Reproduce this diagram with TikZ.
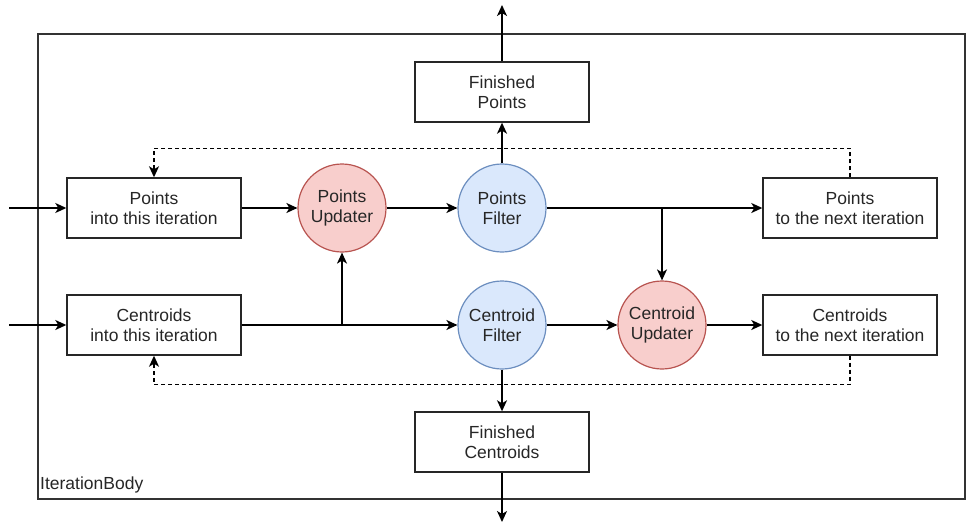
\documentclass[tikz,border=0pt]{standalone}
\usepackage{fontspec}
\setmainfont{Liberation Sans}
\usetikzlibrary{arrows.meta}
\definecolor{redfill}{HTML}{F8CECC}
\definecolor{redline}{HTML}{B85450}
\definecolor{bluefill}{HTML}{DAE8FC}
\definecolor{blueline}{HTML}{6C8EBF}
\definecolor{txt}{HTML}{262626}
\begin{document}
\begin{tikzpicture}[x=1pt,y=-1pt,
  every node/.style={font=\fontsize{17.5}{20}\selectfont, text=txt},
  box/.style={draw=black!85, line width=1.4pt, minimum width=174pt, minimum height=60pt, align=center, inner sep=0pt},
  redc/.style={circle, draw=redline, fill=redfill, line width=1.2pt, minimum size=88pt, align=center, inner sep=0pt},
  bluec/.style={circle, draw=blueline, fill=bluefill, line width=1.2pt, minimum size=88pt, align=center, inner sep=0pt},
  arr/.style={draw=black, line width=1.5pt, -{Stealth[length=11pt,width=10pt,inset=3pt]}},
  darr/.style={arr, dash pattern=on 4pt off 3pt}]
\useasboundingbox (0,0) rectangle (966,527);
\draw[black!80, line width=1.4pt] (38,34) rectangle (965,499);
\node[anchor=base west, inner sep=0pt] (lbl) at (40,489) {IterationBody};

\node[box] (fpts) at (502,92) {Finished\\Points};
\node[box] (pin) at (154,208) {Points\\into this iteration};
\node[redc] (pupd) at (342,208) {Points\\Updater};
\node[bluec] (pfil) at (502,208) {Points\\Filter};
\node[box] (pnext) at (850,208) {Points\\to the next iteration};

\node[box] (cin) at (154,325) {Centroids\\into this iteration};
\node[bluec] (cfil) at (502,325) {Centroid\\Filter};
\node[redc] (cupd) at (662,325) {Centroid\\Updater};
\node[box] (cnext) at (850,325) {Centroids\\to the next iteration};
\node[box] (fcen) at (502,442) {Finished\\Centroids};

\coordinate (inp) at (9,208);
\coordinate (inc) at (9,325);
\coordinate (outp) at (502,5);
\coordinate (outc) at (502,522);

\draw[arr] (inp) -- (pin.west);
\draw[arr] (inc) -- (cin.west);
\draw[arr] (pin.east) -- (pupd.west);
\draw[arr] (pupd.east) -- (pfil.west);
\draw[arr] (pfil.east) -- (pnext.west);
\draw[arr] (cupd.north |- pfil.east) -- (cupd.north);
\draw[arr] (pfil.north) -- (fpts.south);
\draw[arr] (fpts.north) -- (outp);

\draw[arr] (cin.east) -- (cfil.west);
\draw[arr] (pupd.south |- cin.east) -- (pupd.south);
\draw[arr] (cfil.east) -- (cupd.west);
\draw[arr] (cupd.east) -- (cnext.west);
\draw[arr] (cfil.south) -- (fcen.north);
\draw[arr] (fcen.south) -- (outc);

\draw[darr] (pnext.north) -- ++(0,-29) -| (pin.north);
\draw[darr] (cnext.south) -- ++(0,29) -| (cin.south);
\end{tikzpicture}
\end{document}
